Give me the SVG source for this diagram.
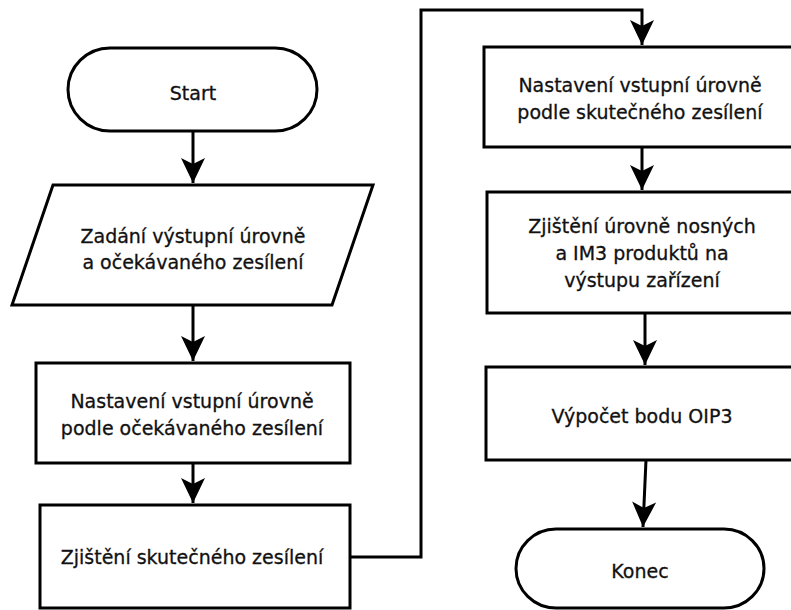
<svg xmlns="http://www.w3.org/2000/svg" width="791" height="610" viewBox="0 0 791 610">
<style>
.s{fill:#fff;stroke:#000;stroke-width:3}
.t{font-family:"DejaVu Sans",Verdana,sans-serif;font-size:19px;fill:#111;stroke:#111;stroke-width:0.3;text-anchor:middle}
.c{fill:none;stroke:#000;stroke-width:3}
</style>
<defs>
<marker id="ah" markerUnits="userSpaceOnUse" viewBox="-26 -13 27 26" refX="0" refY="0" markerWidth="27" markerHeight="26" orient="auto">
<path d="M0,0 L-25,-12 L-19,0 L-25,12 Z" fill="#000"/>
</marker>
</defs>
<rect width="791" height="610" fill="#fff"/>
<g id="start">
<rect class="s" x="68" y="48" width="249" height="83" rx="42" ry="42"/>
<text class="t" x="193" y="100">Start</text>
</g>
<g id="input">
<path class="s" d="M53,185 L373,185 L332,305 L12,305 Z"/>
<text class="t" x="193" y="243">Zadání výstupní úrovně</text>
<text class="t" x="193" y="269">a očekávaného zesílení</text>
</g>
<g id="set1">
<rect class="s" x="36" y="363" width="314" height="100"/>
<text class="t" x="192" y="408">Nastavení vstupní úrovně</text>
<text class="t" x="192" y="435">podle očekávaného zesílení</text>
</g>
<g id="measure1">
<rect class="s" x="40" y="505" width="310" height="103"/>
<text class="t" x="192" y="564">Zjištění skutečného zesílení</text>
</g>
<g id="set2">
<rect class="s" x="484" y="47" width="312" height="100"/>
<text class="t" x="640" y="92">Nastavení vstupní úrovně</text>
<text class="t" x="640" y="119">podle skutečného zesílení</text>
</g>
<g id="measure2">
<rect class="s" x="487" y="192" width="312" height="121"/>
<text class="t" x="642" y="233">Zjištění úrovně nosných</text>
<text class="t" x="642" y="260">a IM3 produktů na</text>
<text class="t" x="642" y="287">výstupu zařízení</text>
</g>
<g id="calc">
<rect class="s" x="486" y="367" width="312" height="93"/>
<text class="t" x="642" y="423">Výpočet bodu OIP3</text>
</g>
<g id="end">
<rect class="s" x="516" y="529" width="248" height="79" rx="40" ry="40"/>
<text class="t" x="640" y="578">Konec</text>
</g>
<g id="connectors">
<path class="c" d="M193,131 L193,183" marker-end="url(#ah)"/>
<path class="c" d="M193,305 L193,361" marker-end="url(#ah)"/>
<path class="c" d="M193,463 L193,503" marker-end="url(#ah)"/>
<path class="c" d="M350,557 L421,557 L421,10 L642,10 L642,45" marker-end="url(#ah)"/>
<path class="c" d="M642,147 L642,190" marker-end="url(#ah)"/>
<path class="c" d="M645,313 L645,365" marker-end="url(#ah)"/>
<path class="c" d="M646,460 L643,527" marker-end="url(#ah)"/>
</g>
</svg>
